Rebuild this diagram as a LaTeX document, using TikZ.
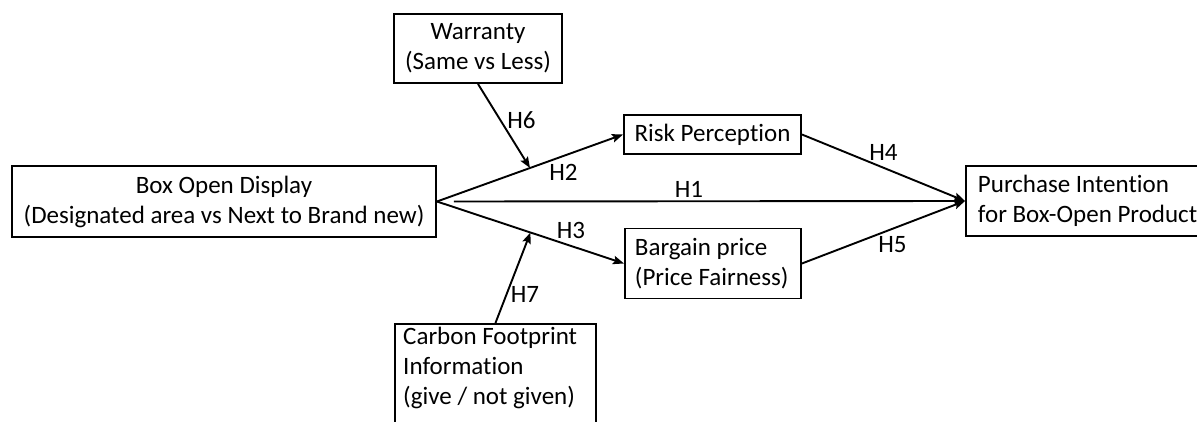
\documentclass[tikz,border=0pt]{standalone}
\usepackage{fontspec}
\setmainfont{Carlito}[Ligatures={NoCommon}]
\usetikzlibrary{arrows.meta}
\begin{document}
\begin{tikzpicture}[x=1pt,y=-1pt,
  box/.style={draw=black, line width=1.9pt, inner sep=0pt, font=\fontsize{25}{30}\selectfont},
  lbl/.style={inner sep=0pt, font=\fontsize{25}{30}\selectfont},
  link/.style={line width=1.9pt, -{Stealth[length=11pt,width=8.5pt,inset=2pt]}}]
\clip (0,0) rectangle (1197,422);
\fill[white] (0,0) rectangle (1197,422);

% constructs
\node[box, minimum width=424pt, minimum height=71pt, align=center] (disp) at (224,201.5)
  {Box Open Display\\(Designated area vs Next to Brand new)};
\node[box, anchor=west, minimum height=70pt, inner xsep=12pt, text width=240pt, align=flush left] (purch) at (965,201)
  {Purchase Intention\\for Box-Open Product};
\node[box, minimum width=168pt, minimum height=69pt, align=center] (warr) at (478,48.5)
  {Warranty\\(Same vs Less)};
\node[box, minimum width=177pt, minimum height=39pt, align=center] (risk) at (712.5,134.5)
  {Risk Perception};
\node[box, anchor=west, minimum height=70pt, inner xsep=10pt, text width=156pt, align=flush left] (barg) at (624,263.5)
  {Bargain price\\(Price Fairness)};
\node[box, anchor=north west, minimum width=201pt, minimum height=115pt] (carb) at (394,323) {};
\node[lbl, anchor=north west, align=left] (carbtext) at ([xshift=9pt,yshift=-4pt]carb.north west)
  {Carbon Footprint\\Information\\(give / not given)};

% paths
\draw[link] (disp.east) -- coordinate[pos=0.5] (m2) (risk.west);
\draw[link] (disp.east) -- coordinate[pos=0.5] (m3) (barg.west);
\draw[link] ([xshift=17pt]disp.east) -- (purch.west);
\draw[link] (risk.east) -- (purch.west);
\draw[link] (barg.east) -- (purch.west);
\draw[link] (warr.south) -- (m2);
\draw[link] (carb.north) -- (m3);

% hypothesis labels
\node[lbl] (h1) at (689,189) {H1};
\node[lbl] (h2) at (563.5,172) {H2};
\node[lbl] (h3) at (571,230) {H3};
\node[lbl] (h4) at (883.5,152.5) {H4};
\node[lbl] (h5) at (892.5,244.5) {H5};
\node[lbl] (h6) at (521.5,120.5) {H6};
\node[lbl] (h7) at (525,294) {H7};
\end{tikzpicture}
\end{document}
